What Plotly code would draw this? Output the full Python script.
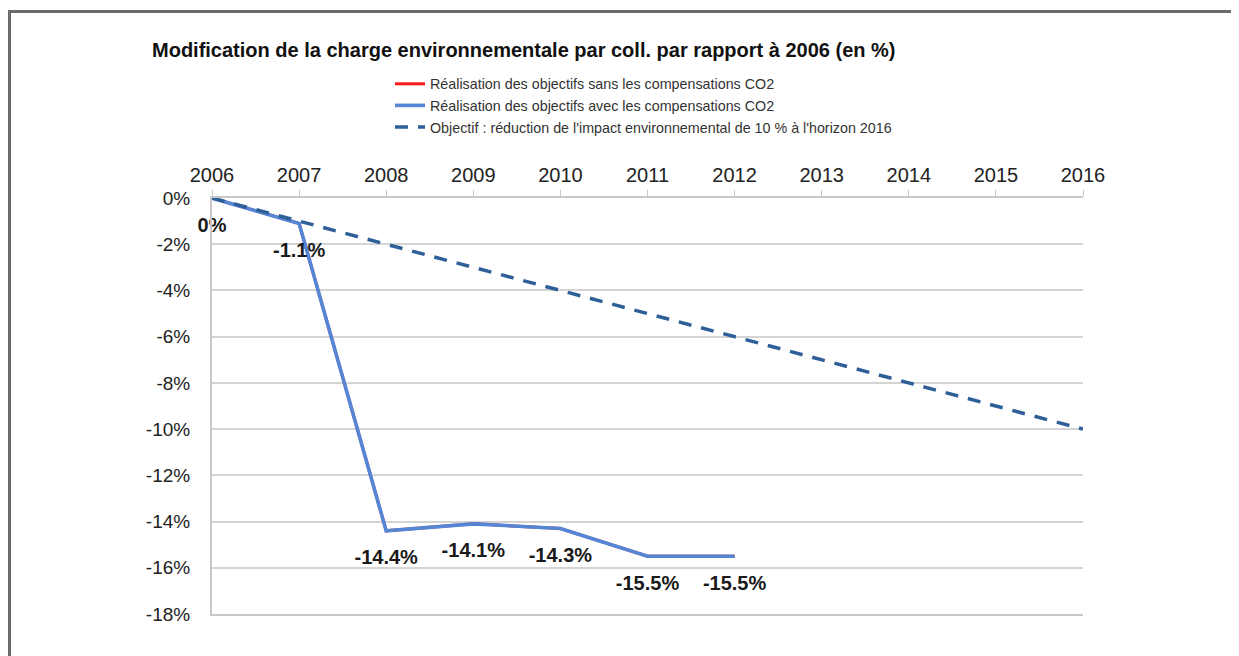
import plotly.graph_objects as go

years = [2006, 2007, 2008, 2009, 2010, 2011, 2012]
avec_compensations = [0.0, -1.1, -14.4, -14.1, -14.3, -15.5, -15.5]
sans_compensations = [0.0, -1.1, -14.4, -14.1, -14.3, -15.5, -15.5]
label_text = ["0%", "-1.1%", "-14.4%", "-14.1%", "-14.3%", "-15.5%", "-15.5%"]

objectif_years = [2006, 2007, 2008, 2009, 2010, 2011, 2012, 2013, 2014, 2015, 2016]
objectif_values = [0, -1, -2, -3, -4, -5, -6, -7, -8, -9, -10]

y_tickvals = [0, -2, -4, -6, -8, -10, -12, -14, -16, -18]
y_ticktext = ["0%", "-2%", "-4%", "-6%", "-8%", "-10%", "-12%", "-14%", "-16%", "-18%"]

FONT = "Liberation Sans, Arial, sans-serif"

# page body has an 8px margin: work in reference pixel coords, shifted by 8
OFF = 8
W, H = 1239 - OFF, 656 - OFF
L, T = 212 - OFF, 198 - OFF
pw, ph = 871, 416
R, B = W - L - pw, H - T - ph


def px_x(p):
    return (p - OFF - L) / pw


def px_y(p):
    return (H - B - (p - OFF)) / ph


fig = go.Figure()

fig.add_trace(go.Scatter(
    x=years, y=sans_compensations, mode="lines",
    name="Réalisation des objectifs sans les compensations CO2",
    line=dict(color="#ff1a1a", width=3), legendgroup="a",
))
fig.add_trace(go.Scatter(
    x=years, y=avec_compensations, mode="lines",
    name="Réalisation des objectifs avec les compensations CO2",
    line=dict(color="#5585d5", width=3.6), legendgroup="b",
))
fig.add_trace(go.Scatter(
    x=objectif_years, y=objectif_values, mode="lines",
    name="Objectif : réduction de l'impact environnemental de 10 % à l'horizon 2016",
    line=dict(color="#2f5f98", width=3.5, dash="13px,10px"), legendgroup="c",
))
# data labels for the blue series
fig.add_trace(go.Scatter(
    x=years, y=avec_compensations, mode="markers+text",
    showlegend=False, hoverinfo="skip",
    marker=dict(size=28, opacity=0, color="#5585d5"),
    text=label_text, textposition="bottom center",
    textfont=dict(family=FONT, size=20, color="#1a1a1a", weight="bold"),
    cliponaxis=False,
))

fig.update_layout(
    width=W, height=H,
    margin=dict(l=L, r=R, t=T, b=B),
    paper_bgcolor="white", plot_bgcolor="white",
    font=dict(family=FONT, color="#222222"),
    title=dict(
        text="<b>Modification de la charge environnementale par coll. par rapport à 2006 (en %)</b>",
        font=dict(family=FONT, size=20, color="#111111"),
        x=(152 - OFF) / W, xanchor="left", xref="container",
        y=1 - (50 - OFF) / H, yanchor="middle", yref="container",
    ),
    showlegend=True,
    legend=dict(
        x=px_x(390), xanchor="left", y=px_y(68), yanchor="top",
        font=dict(family=FONT, size=14.3, color="#333333"),
        bgcolor="rgba(0,0,0,0)", tracegroupgap=3, traceorder="normal",
    ),
    xaxis=dict(
        range=[2006, 2016], side="top",
        tickvals=objectif_years, ticktext=[str(y) for y in objectif_years],
        showgrid=False, zeroline=False,
        showline=True, linecolor="#c8c8c8", linewidth=2, mirror=True,
        ticks="outside", ticklen=6, tickcolor="#c8c8c8", tickwidth=1,
        tickfont=dict(family=FONT, size=20, color="#222222"),
        fixedrange=True,
    ),
    yaxis=dict(
        range=[-18, 0],
        tickvals=y_tickvals, ticktext=y_ticktext,
        showgrid=True, gridcolor="#d4d4d4", gridwidth=2,
        zeroline=False,
        showline=True, linecolor="#c8c8c8", linewidth=2,
        ticks="", ticklabelstandoff=16,
        tickfont=dict(family=FONT, size=19, color="#222222"),
        fixedrange=True,
    ),
    shapes=[
        dict(type="line", xref="paper", yref="paper",
             x0=px_x(9.5), x1=px_x(9.5), y0=px_y(11), y1=px_y(700),
             line=dict(color="#6a6a6a", width=3)),
        dict(type="line", xref="paper", yref="paper",
             x0=px_x(8), x1=px_x(1260), y0=px_y(11.5), y1=px_y(11.5),
             line=dict(color="#6a6a6a", width=3)),
    ],
)

fig.write_html("out.html")
